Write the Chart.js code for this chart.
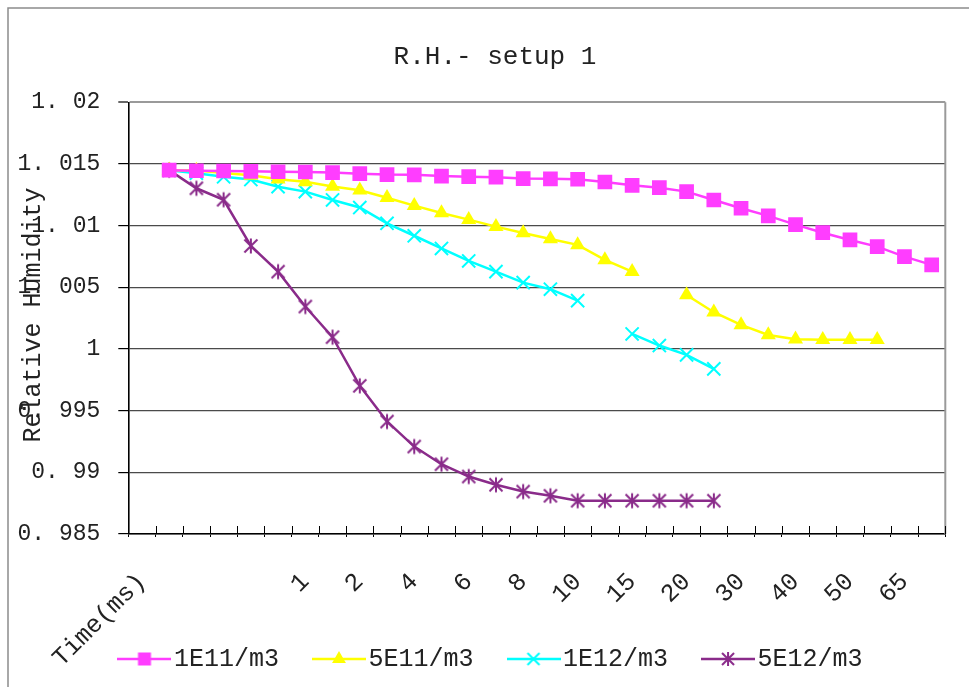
<!DOCTYPE html>
<html>
<head>
<meta charset="utf-8">
<script src="https://cdn.jsdelivr.net/npm/chart.js@4.4.1/dist/chart.umd.min.js"></script>
<style>
  html, body { margin: 0; padding: 0; background: #fff; overflow: hidden; }
  canvas { display: block; }
</style>
</head>
<body>
<canvas id="rh" width="969" height="687"></canvas>
<script>
// Time axis categories (only every other one carries a printed label)
const timeLabels = ['Time(ms)', '', '', '', '', '', '1', '', '2', '', '4', '', '6', '',
  '8', '', '10', '', '15', '', '20', '', '30', '', '40', '', '50', '', '65', ''];

const seriesNames = ['1E11/m3', '5E11/m3', '1E12/m3', '5E12/m3'];

// Relative humidity per particle concentration
const rh1E11 = [null, 1.0145, 1.01445, 1.01443, 1.0144, 1.01437, 1.01435, 1.0143, 1.01421,
  1.01414, 1.01412, 1.01402, 1.01397, 1.01393, 1.01382, 1.0138, 1.01376, 1.01354, 1.01327,
  1.01308, 1.01276, 1.01208, 1.01141, 1.01079, 1.01008, 1.00943, 1.00884, 1.0083, 1.00749, 1.00682];

const rh5E11 = [null, 1.0145, 1.01448, 1.01427, 1.01408, 1.01377, 1.01355, 1.01318, 1.01287,
  1.01226, 1.01162, 1.01103, 1.01049, 1.00992, 1.00941, 1.00892, 1.00844, 1.00722, 1.00627,
  null, 1.00438, 1.00298, 1.00195, 1.00114, 1.00079, 1.00075, 1.00075, 1.00075, null, null];

const rh1E12 = [null, 1.0145, 1.01425, 1.01396, 1.01374, 1.01316, 1.01276, 1.01208, 1.01147,
  1.01019, 1.00918, 1.00815, 1.00714, 1.00627, 1.00538, 1.00485, 1.00392, null, 1.00122,
  1.00028, 0.99952, 0.99839, null, null, null, null, null, null, null, null];

const rh5E12 = [null, 1.0145, 1.01303, 1.0121, 1.00835, 1.00627, 1.00344, 1.00096, 0.99701,
  0.99412, 0.99209, 0.99066, 0.98966, 0.98899, 0.98844, 0.9881, 0.9877, 0.9877, 0.9877,
  0.9877, 0.9877, 0.9877, null, null, null, null, null, null, null, null];

const colors = ['#ff3dff', '#ffff00', '#00ffff', '#8a2b8a'];
const FONT = '"Liberation Mono", "DejaVu Sans Mono", monospace';
const TEXT = '#222222';

// ---- marker drawing helpers ----
function drawSquare(g, x, y, s, c) { g.fillStyle = c; g.fillRect(x - s / 2, y - s / 2, s, s); }
function drawTriangle(g, x, y, r, c) {
  g.fillStyle = c; g.beginPath();
  for (let k = 0; k < 3; k++) {
    const a = -Math.PI / 2 + k * 2 * Math.PI / 3;
    const px = x + Math.cos(a) * r, py = y + Math.sin(a) * r;
    k ? g.lineTo(px, py) : g.moveTo(px, py);
  }
  g.closePath(); g.fill();
}
function drawX(g, x, y, h, c, w) {
  g.strokeStyle = c; g.lineWidth = w; g.beginPath();
  g.moveTo(x - h, y - h); g.lineTo(x + h, y + h);
  g.moveTo(x + h, y - h); g.lineTo(x - h, y + h);
  g.stroke();
}
function drawAsterisk(g, x, y, h, c, w) {
  drawX(g, x, y, h, c, w);
  g.beginPath(); g.moveTo(x, y - h - 1); g.lineTo(x, y + h + 1); g.stroke();
}

// Asterisk marker for the densest series
const starMarker = document.createElement('canvas');
starMarker.width = 18; starMarker.height = 18;
drawAsterisk(starMarker.getContext('2d'), 9, 9, 6.5, colors[3], 2);

// Legend symbols: a short line with the series marker on it
function legendIcon(i) {
  const cv = document.createElement('canvas');
  cv.width = 54; cv.height = 20;
  const g = cv.getContext('2d');
  g.strokeStyle = colors[i]; g.lineWidth = 2.5;
  g.beginPath(); g.moveTo(0, 10); g.lineTo(54, 10); g.stroke();
  if (i === 0) drawSquare(g, 27, 10, 13, colors[0]);
  if (i === 1) drawTriangle(g, 27, 10, 8, colors[1]);
  if (i === 2) drawX(g, 27, 10, 6, colors[2], 2);
  if (i === 3) drawAsterisk(g, 27, 10, 6, colors[3], 2);
  return cv;
}
const legendIcons = [0, 1, 2, 3].map(legendIcon);

// Frame, plot-area edge, inner tick marks and the rotated y-axis title
const decorations = {
  id: 'decorations',
  afterLayout(chart) {
    // let axis labels run past their own boxes (long rotated first label, wide y labels)
    Object.values(chart.scales).forEach((s) => { s._computeLabelArea = () => undefined; });
  },
  beforeDraw(chart) {
    const g = chart.ctx;
    g.save(); g.fillStyle = '#fff'; g.fillRect(0, 0, chart.width, chart.height); g.restore();
  },
  beforeDatasetsDraw(chart) {
    const { ctx: g, chartArea: a } = chart;
    g.save();
    g.strokeStyle = '#9a9a9a'; g.lineWidth = 2;
    g.beginPath(); g.moveTo(a.right, a.top); g.lineTo(a.right, a.bottom); g.stroke();
    g.restore();
  },
  afterDraw(chart) {
    const { ctx: g, chartArea: a } = chart;
    g.save();
    // outer frame
    g.strokeStyle = '#8c8c8c'; g.lineWidth = 1.5;
    g.beginPath(); g.moveTo(8, chart.height + 5); g.lineTo(8, 8); g.lineTo(chart.width + 5, 8); g.stroke();
    // tick marks reaching into the plot area
    const n = timeLabels.length;
    g.strokeStyle = '#000'; g.lineWidth = 1;
    g.beginPath();
    for (let i = 0; i <= n; i++) {
      const x = Math.round(a.left + i * (a.right - a.left) / n) + 0.5;
      g.moveTo(x, a.bottom - 8); g.lineTo(x, a.bottom);
    }
    g.stroke();
    // y-axis title
    g.translate(33, 315);
    g.rotate(-Math.PI / 2);
    g.fillStyle = TEXT;
    g.font = '25px ' + FONT;
    g.textAlign = 'center'; g.textBaseline = 'middle';
    g.fillText('Relative Humidity', 0, 0);
    g.restore();
  }
};

function series(i, data, style) {
  return Object.assign({
    label: seriesNames[i],
    data: data,
    borderColor: colors[i],
    backgroundColor: colors[i],
    pointBackgroundColor: colors[i],
    pointBorderColor: colors[i],
    borderWidth: 2.5,
    tension: 0,
    spanGaps: false,
    pointHoverRadius: 0
  }, style);
}

new Chart(document.getElementById('rh'), {
  type: 'line',
  data: {
    labels: timeLabels,
    datasets: [
      series(0, rh1E11, { pointStyle: 'rect', pointRadius: 10.4, pointBorderWidth: 0 }),
      series(1, rh5E11, { pointStyle: 'triangle', pointRadius: 8.7, pointBorderWidth: 0 }),
      series(2, rh1E12, { pointStyle: 'crossRot', pointRadius: 9.3, pointBorderWidth: 2 }),
      series(3, rh5E12, { pointStyle: starMarker, pointRadius: 8, pointBorderWidth: 0 })
    ]
  },
  options: {
    responsive: false,
    animation: false,
    events: [],
    layout: { padding: { left: 44.7, right: 23.7, top: 0, bottom: 5.5 } },
    plugins: {
      title: {
        display: true,
        text: 'R.H.- setup 1',
        color: TEXT,
        font: { family: FONT, size: 26, weight: 'normal' },
        padding: { top: 41.4, bottom: 29.7 }
      },
      legend: {
        display: true,
        position: 'bottom',
        labels: {
          usePointStyle: true,
          pointStyleWidth: 34,
          padding: 43,
          color: TEXT,
          font: { family: FONT, size: 25 },
          generateLabels(chart) {
            return chart.data.datasets.map((ds, i) => ({
              text: ds.label,
              pointStyle: legendIcons[i],
              fillStyle: colors[i],
              strokeStyle: colors[i],
              lineWidth: 0,
              fontColor: TEXT,
              hidden: false,
              datasetIndex: i
            }));
          }
        }
      },
      tooltip: { enabled: false }
    },
    scales: {
      x: {
        type: 'category',
        offset: true,
        grid: { display: true, offset: true, drawOnChartArea: false, drawTicks: true, tickLength: 3, color: '#000', tickColor: '#000' },
        border: { display: true, color: '#000', width: 1.6 },
        ticks: {
          autoSkip: false,
          minRotation: 45,
          maxRotation: 45,
          padding: 30,
          color: TEXT,
          font: { family: FONT, size: 25 }
        },
        afterFit(scale) {
          scale.height = 69.5;
          scale.paddingLeft = 0;
          scale.paddingRight = 0;
        }
      },
      y: {
        min: 0.985,
        max: 1.02,
        grid: {
          color: (c) => c.index === 7 ? '#9a9a9a' : '#4a4a4a',
          lineWidth: (c) => c.index === 7 ? 2 : 1.2,
          tickLength: 10,
          tickColor: '#000',
          tickWidth: 1.2
        },
        border: { display: true, color: '#000', width: 1.6 },
        ticks: {
          stepSize: 0.005,
          padding: 18,
          color: TEXT,
          font: { family: FONT, size: 23 },
          callback: (v) => String(+Number(v).toFixed(3)).replace('.', '. ')
        },
        afterFit(scale) { scale.width = 83.6; }
      }
    }
  },
  plugins: [decorations]
});
</script>
</body>
</html>
